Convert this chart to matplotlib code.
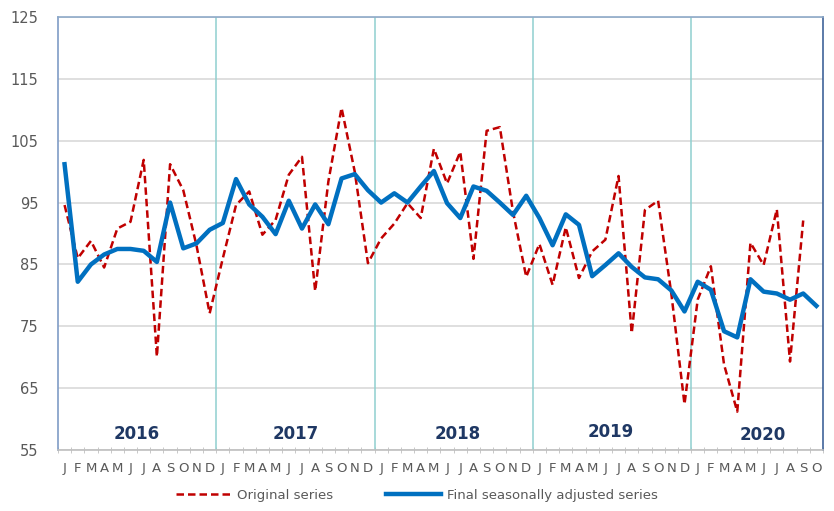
import matplotlib
matplotlib.use("Agg")
import matplotlib.pyplot as plt
import numpy as np

# monthly values, Jan 2016 .. Oct 2020
original = [
    94.6, 86.0, 88.8, 84.5, 90.8, 91.9, 101.9, 70.1, 101.2, 97.0, 88.1, 77.1,
    86.0, 94.6, 96.8, 89.8, 92.2, 99.5, 102.4, 80.7, 98.4, 110.3, 100.0, 85.2,
    89.2, 91.6, 94.9, 92.5, 103.7, 98.1, 103.2, 85.9, 106.6, 107.2, 93.5, 83.0,
    88.3, 81.7, 91.0, 82.8, 87.1, 89.0, 99.3, 73.9, 93.8, 95.3, 80.3, 62.4,
    79.3, 84.7, 68.8, 61.2, 88.5, 84.9, 93.9, 69.3, 92.1, None,
]
adjusted = [
    101.2, 82.2, 85.0, 86.6, 87.5, 87.5, 87.2, 85.4, 95.0, 87.6, 88.4, 90.6,
    91.7, 98.8, 94.7, 92.7, 89.9, 95.3, 90.8, 94.7, 91.5, 98.9, 99.6, 97.0,
    95.0, 96.5, 95.0, 97.6, 100.1, 94.9, 92.5, 97.6, 96.9, 95.0, 93.0, 96.1,
    92.5, 88.1, 93.1, 91.4, 83.1, 84.9, 86.8, 84.6, 82.9, 82.6, 80.8, 77.4,
    82.2, 80.9, 74.2, 73.2, 82.6, 80.6, 80.3, 79.3, 80.3, 78.3,
]
years = ["2016", "2017", "2018", "2019", "2020"]
months = ["J", "F", "M", "A", "M", "J", "J", "A", "S", "O", "N", "D"]

n = len(adjusted)
x = np.arange(n)
month_labels = [months[i % 12] for i in range(n)]
orig = np.array([np.nan if v is None else v for v in original], dtype=float)

fig = plt.figure(figsize=(8.34, 5.11), dpi=100)
ax = fig.add_axes([0.0695, 0.1194, 0.9173, 0.8473])

ax.set_ylim(55, 125)
ax.set_xlim(-0.5, n - 0.5)
ax.set_yticks(np.arange(55, 126, 10))
ax.yaxis.grid(True, color="#D9D9D9", linewidth=1.2)
ax.set_axisbelow(True)

# year separators
for k in range(1, len(years)):
    ax.axvline(12 * k - 0.5, color="#8FD0D0", linewidth=1.1, zorder=1)

ax.plot(x, orig, color="#C00000", linewidth=1.8, dashes=(3, 1.6),
        label="Original series", zorder=3)
ax.plot(x, adjusted, color="#0070C0", linewidth=3.2,
        label="Final seasonally adjusted series", zorder=4)

# year labels inside the plot
year_shift = [0, 0, 0.3, -0.1, -0.6]
year_y = [57.6, 57.6, 57.6, 57.9, 57.4]
for k, yr in enumerate(years):
    ax.text(12 * k + 5.5 + year_shift[k], year_y[k], yr, ha="center", va="center",
            fontsize=12, fontweight="bold", color="#1F3864")

ax.set_xticks(x)
ax.set_xticklabels(month_labels)
ax.set_xticks(np.arange(-0.5, n, 1), minor=True)
ax.tick_params(axis="x", which="major", length=0, pad=9, labelsize=9.5,
               labelcolor="#595959")
ax.tick_params(axis="x", which="minor", length=4, color="#BFBFBF",
               direction="inout")
ax.tick_params(axis="y", length=0, pad=14, labelsize=10.5, labelcolor="#595959")

ax.spines["left"].set_color("#7F9CC6")
ax.spines["top"].set_color("#8EA9C8")
ax.spines["right"].set_color("#3F6399")
ax.spines["bottom"].set_color("#BFBFBF")
for s in ax.spines.values():
    s.set_linewidth(1.2)

leg = fig.legend(loc="lower center", bbox_to_anchor=(0.5, -0.005), ncol=2,
                 frameon=False, fontsize=9.5, handlelength=4.2,
                 columnspacing=4, handletextpad=0.4)
for t in leg.get_texts():
    t.set_color("#595959")

fig.savefig("out.png", dpi=100)
